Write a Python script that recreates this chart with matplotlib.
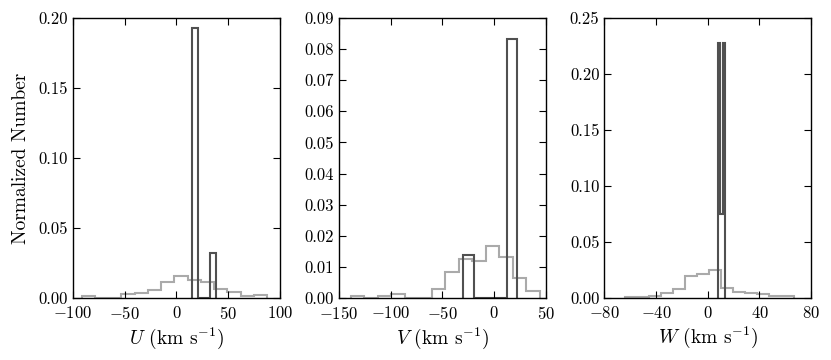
import matplotlib
matplotlib.use("Agg")
import matplotlib.pyplot as plt
import numpy as np

# ============================================
# DATA
# ============================================

# U component
u_edges_all = np.linspace(-91.6, 87.6, 15)
u_all = [0.0014, 0, 0, 0.0026, 0.0036, 0.006, 0.0114, 0.016,
         0.013, 0.0114, 0.0064, 0.0043, 0.0012, 0.002]
u_edges_sel = np.linspace(15.5, 38.1, 5)
u_sel = [0.193, 0, 0, 0.032]

# V component
v_edges_all = np.linspace(-138.4, 44.2, 15)
v_all = [0.0006, 0, 0.0006, 0.0014, 0, 0, 0.0029, 0.0084,
         0.0125, 0.0118, 0.0167, 0.0132, 0.0064, 0.0021]
v_edges_sel = np.linspace(-30.0, 22.5, 6)
v_sel = [0.0139, 0, 0, 0, 0.0833]

# W component
w_edges_all = np.linspace(-64.0, 66.3, 15)
w_all = [0.0009, 0.0009, 0.0018, 0.0048, 0.008, 0.02, 0.0217,
         0.0247, 0.0092, 0.0054, 0.0045, 0.0033, 0.0015, 0.002]
w_edges_sel = [7.6, 9.6, 11.5, 13.5]
w_sel = [0.228, 0.0753, 0.228]

panels = [
    ("U", u_edges_all, u_all, u_edges_sel, u_sel, (-100, 100), 50, 0.20, 0.05),
    ("V", v_edges_all, v_all, v_edges_sel, v_sel, (-150, 50), 50, 0.09, 0.01),
    ("W", w_edges_all, w_all, w_edges_sel, w_sel, (-80, 80), 40, 0.25, 0.05),
]

# ============================================
# STYLE
# ============================================

plt.rcParams.update({
    "font.family": "serif",
    "font.serif": ["cmr10"],
    "mathtext.fontset": "cm",
    "axes.formatter.use_mathtext": True,
    "axes.unicode_minus": True,
    "xtick.direction": "in",
    "ytick.direction": "in",
    "xtick.top": True,
    "ytick.right": True,
    "xtick.major.size": 5,
    "ytick.major.size": 5,
    "axes.linewidth": 1.0,
})

LIGHT = "#aaaaaa"
DARK = "#505050"

fig = plt.figure(figsize=(8.31, 3.6), dpi=100)
lefts = [73 / 831, 339 / 831, 604.3 / 831]

for left, (name, ea, va, es, vs, xlim, xstep, ymax, ystep) in zip(lefts, panels):
    ax = fig.add_axes([left, 0.1722, 0.249, 0.778])
    ax.stairs(va, ea, baseline=0, fill=False, color=LIGHT, linewidth=1.5)
    ax.stairs(vs, es, baseline=0, fill=False, color=DARK, linewidth=1.5)
    ax.set_xlim(*xlim)
    ax.set_ylim(0, ymax)
    ax.set_xticks(np.arange(xlim[0], xlim[1] + 1, xstep))
    ax.set_yticks(np.arange(0, ymax + ystep / 2, ystep))
    ax.yaxis.set_major_formatter(matplotlib.ticker.FormatStrFormatter("%.2f"))
    ax.tick_params(labelsize=12)
    ax.tick_params(axis="x", pad=5)
    ax.set_xlabel(rf"${name}$ (km s$^{{-1}}$)", fontsize=14, labelpad=3)
    if name == "U":
        ax.set_ylabel("Normalized Number", fontsize=14, labelpad=6)

fig.savefig("out.png", dpi=100)
